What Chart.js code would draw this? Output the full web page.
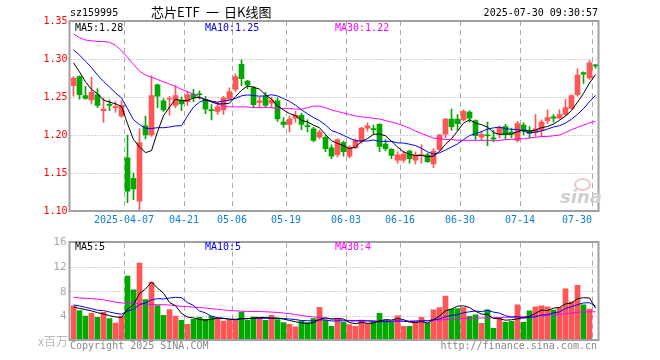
<!DOCTYPE html>
<html>
<head>
<meta charset="utf-8">
<script src="https://cdn.jsdelivr.net/npm/chart.js@4.4.1/dist/chart.umd.min.js"></script>
<style>
  body { margin: 0; background: #fff; width: 660px; height: 360px; position: relative; overflow: hidden; }
  canvas { position: absolute; left: 0; }
  #kc { top: 0; }
  #vc { top: 232px; }
  .t { position: absolute; font: 10px "DejaVu Sans Mono", monospace; line-height: 10px; white-space: nowrap; }
  .cn { position: absolute; font: 13px "Noto Sans CJK SC", sans-serif; line-height: 13px; white-space: nowrap; }
</style>
</head>
<body>
<canvas id="kc" width="660" height="232"></canvas>
<canvas id="vc" width="660" height="128"></canvas>

<div class="t" style="left:70px;top:7.5px">sz159995</div>
<div class="cn" style="left:151px;top:5px">芯片ETF</div>
<div class="cn" style="left:206px;top:5px">一</div>
<div class="cn" style="left:224px;top:5px">日K线图</div>
<div class="t" style="right:62px;top:7.5px">2025-07-30 09:30:57</div>

<div class="t" style="left:75px;top:22.5px;color:#000">MA5:1.28</div>
<div class="t" style="left:205px;top:22.5px;color:#00f">MA10:1.25</div>
<div class="t" style="left:335px;top:22.5px;color:#f0f">MA30:1.22</div>

<div class="t" style="left:75px;top:242px;color:#000">MA5:5</div>
<div class="t" style="left:205px;top:242px;color:#00f">MA10:5</div>
<div class="t" style="left:335px;top:242px;color:#f0f">MA30:4</div>

<div class="cn" style="left:38px;top:334px;font-size:12px;color:#bbb">x百万</div>
<div class="t" style="left:70px;top:341px;color:#888">Copyright 2025 SINA.COM</div>
<div class="t" style="right:63px;top:341px;color:#888">http://finance.sina.com.cn</div>

<div style="position:absolute;left:574px;top:178px;width:13px;height:9px;border-radius:50%;border:2px solid #efc6c6"></div>
<div style="position:absolute;left:560px;top:188px;font:italic bold 18px 'DejaVu Sans',sans-serif;color:#cfcfcf;line-height:18px">sina</div>

<script>
// trading days shown in the window
const dates = [
  '2025-03-24','2025-03-25','2025-03-26','2025-03-27','2025-03-28','2025-03-31',
  '2025-04-01','2025-04-02','2025-04-03','2025-04-07','2025-04-08','2025-04-09',
  '2025-04-10','2025-04-11','2025-04-14','2025-04-15','2025-04-16','2025-04-17',
  '2025-04-18','2025-04-21','2025-04-22','2025-04-23','2025-04-24','2025-04-25',
  '2025-04-28','2025-04-29','2025-04-30','2025-05-06','2025-05-07','2025-05-08',
  '2025-05-09','2025-05-12','2025-05-13','2025-05-14','2025-05-15','2025-05-16',
  '2025-05-19','2025-05-20','2025-05-21','2025-05-22','2025-05-23','2025-05-26',
  '2025-05-27','2025-05-28','2025-05-29','2025-05-30','2025-06-03','2025-06-04',
  '2025-06-05','2025-06-06','2025-06-09','2025-06-10','2025-06-11','2025-06-12',
  '2025-06-13','2025-06-16','2025-06-17','2025-06-18','2025-06-19','2025-06-20',
  '2025-06-23','2025-06-24','2025-06-25','2025-06-26','2025-06-27','2025-06-30',
  '2025-07-01','2025-07-02','2025-07-03','2025-07-04','2025-07-07','2025-07-08',
  '2025-07-09','2025-07-10','2025-07-11','2025-07-14','2025-07-15','2025-07-16',
  '2025-07-17','2025-07-18','2025-07-21','2025-07-22','2025-07-23','2025-07-24',
  '2025-07-25','2025-07-28','2025-07-29','2025-07-30'
];

const opens = [
  1.265,1.277,1.252,1.246,1.253,1.232,1.240,1.236,1.225,1.170,
  1.143,1.113,1.212,1.200,1.266,1.245,1.247,1.239,1.246,1.244,
  1.254,1.254,1.247,1.233,1.231,1.233,1.247,1.260,1.293,1.271,
  1.262,1.243,1.251,1.242,1.245,1.217,1.214,1.222,1.226,1.212,
  1.208,1.197,1.197,1.183,1.174,1.190,1.172,1.183,1.192,1.209,
  1.208,1.214,1.188,1.181,1.167,1.167,1.179,1.167,1.173,1.174,
  1.162,1.181,1.201,1.221,1.221,1.220,1.230,1.219,1.197,1.200,
  1.196,1.201,1.211,1.204,1.193,1.213,1.206,1.203,1.206,1.219,
  1.224,1.222,1.227,1.235,1.253,1.282,1.275,1.292
];
const highs = [
  1.277,1.278,1.264,1.276,1.261,1.249,1.246,1.244,1.245,1.200,
  1.150,1.208,1.225,1.278,1.267,1.248,1.251,1.265,1.250,1.257,
  1.260,1.258,1.251,1.240,1.243,1.251,1.262,1.280,1.299,1.272,
  1.264,1.250,1.256,1.250,1.249,1.223,1.225,1.231,1.229,1.220,
  1.210,1.206,1.200,1.187,1.195,1.192,1.186,1.195,1.210,1.216,
  1.213,1.215,1.194,1.182,1.178,1.179,1.180,1.178,1.187,1.176,
  1.182,1.201,1.222,1.234,1.227,1.233,1.232,1.220,1.205,1.217,
  1.206,1.212,1.214,1.209,1.218,1.216,1.211,1.227,1.220,1.233,
  1.227,1.233,1.247,1.253,1.287,1.283,1.298,1.293
];
const lows = [
  1.251,1.247,1.247,1.241,1.236,1.217,1.232,1.230,1.223,1.111,
  1.115,1.100,1.195,1.198,1.236,1.231,1.226,1.236,1.232,1.239,
  1.244,1.247,1.228,1.220,1.227,1.227,1.246,1.257,1.265,1.261,
  1.236,1.236,1.236,1.236,1.218,1.210,1.204,1.217,1.207,1.204,
  1.191,1.195,1.178,1.169,1.171,1.172,1.170,1.182,1.189,1.205,
  1.201,1.178,1.179,1.169,1.163,1.164,1.163,1.162,1.163,1.164,
  1.157,1.179,1.196,1.206,1.206,1.219,1.217,1.194,1.194,1.186,
  1.191,1.196,1.194,1.196,1.191,1.200,1.196,1.198,1.198,1.215,
  1.217,1.221,1.225,1.234,1.251,1.268,1.273,1.288
];
const closes = [
  1.275,1.253,1.248,1.256,1.239,1.234,1.239,1.237,1.239,1.126,
  1.129,1.190,1.200,1.252,1.251,1.233,1.248,1.252,1.241,1.253,
  1.249,1.253,1.234,1.232,1.237,1.249,1.257,1.277,1.274,1.266,
  1.240,1.245,1.239,1.246,1.221,1.214,1.221,1.226,1.214,1.211,
  1.193,1.204,1.182,1.172,1.194,1.178,1.184,1.193,1.209,1.212,
  1.207,1.185,1.182,1.173,1.174,1.175,1.169,1.174,1.174,1.165,
  1.179,1.200,1.221,1.211,1.215,1.231,1.222,1.199,1.201,1.199,
  1.195,1.210,1.201,1.201,1.215,1.206,1.202,1.208,1.217,1.223,
  1.222,1.227,1.236,1.252,1.279,1.280,1.295,1.291
];
// closes of the nine sessions before the window (estimated from where the MA lines start)
const closesBefore = [1.322,1.329,1.338,1.337,1.319,1.313,1.313,1.306,1.268];

// MA30 (needs 29 sessions that are not shown)
const ma30 = [
  1.333,1.328,1.325,1.324,1.323,1.323,1.322,1.318,1.311,1.302,
  1.293,1.284,1.279,1.276,1.273,1.270,1.267,1.264,1.260,1.257,
  1.254,1.250,1.247,1.243,1.241,1.238,1.237,1.237,1.237,1.237,
  1.236,1.236,1.236,1.236,1.235,1.235,1.235,1.234,1.234,1.236,
  1.238,1.238,1.236,1.233,1.231,1.229,1.227,1.225,1.224,1.223,
  1.222,1.221,1.219,1.217,1.215,1.212,1.209,1.205,1.202,1.199,
  1.196,1.195,1.194,1.194,1.193,1.193,1.193,1.193,1.193,1.193,
  1.193,1.193,1.194,1.194,1.195,1.195,1.196,1.197,1.198,1.198,
  1.199,1.200,1.203,1.207,1.210,1.213,1.216,1.218
];

// volume, millions
const volumes = [
  5.70,4.96,4.05,4.48,3.84,4.65,3.63,2.93,4.05,10.56,
  8.32,12.67,6.72,9.60,5.76,4.16,5.12,4.05,3.36,2.72,
  3.52,3.84,3.52,4.05,3.63,3.25,3.36,3.36,4.69,3.36,
  3.89,3.84,3.36,4.16,3.47,2.99,2.72,2.29,3.25,2.99,
  3.63,5.49,3.36,2.38,3.57,3.04,2.67,2.40,3.41,2.88,
  3.20,4.48,3.41,3.04,4.10,2.40,2.40,3.04,3.84,2.93,
  5.07,5.44,7.31,5.17,5.28,5.44,4.00,4.27,2.88,5.07,
  2.08,3.84,3.04,3.20,5.87,3.04,4.90,5.55,5.71,5.55,
  5.01,5.44,8.48,6.35,9.07,5.87,5.20,0.27
];
const volumesBefore = [6.6,6.4,6.6,6.4,5.17,5.96,5.05,5.48,5.3];
const volMa30 = [
  7.10,7.00,6.95,6.90,6.80,6.70,6.50,6.30,6.20,6.10,
  6.10,6.05,6.00,5.95,5.90,5.90,5.85,5.75,5.65,5.60,
  5.50,5.45,5.35,5.25,5.15,5.05,4.95,4.90,4.85,4.80,
  4.80,4.80,4.75,4.70,4.65,4.55,4.45,4.30,4.15,4.00,
  3.90,3.85,3.75,3.60,3.50,3.40,3.35,3.30,3.30,3.25,
  3.25,3.25,3.25,3.25,3.25,3.25,3.25,3.25,3.30,3.30,
  3.35,3.40,3.50,3.55,3.60,3.65,3.70,3.70,3.75,3.75,
  3.80,3.80,3.85,3.85,3.90,3.95,4.00,4.10,4.15,4.20,
  4.30,4.35,4.45,4.55,4.65,4.75,4.75,4.75
];

const tickDates = ['2025-04-07','2025-04-21','2025-05-06','2025-05-19','2025-06-03','2025-06-16','2025-06-30','2025-07-14','2025-07-30'];
const tickText  = ['2025-04-07','04-21','05-06','05-19','06-03','06-16','06-30','07-14','07-30'];
const priceGrid = [1.15, 1.20, 1.25, 1.30];
const volGrid = [4, 8, 12];

const UP = '#ff5555', DOWN = '#00a800';
const MONO = '"DejaVu Sans Mono", monospace';

function movingAvg(vals, before, n) {
  const all = before.concat(vals);
  return vals.map((_, i) => {
    const k = i + before.length;
    const win = all.slice(k - n + 1, k + 1);
    return win.reduce((a, b) => a + b, 0) / win.length;
  });
}

const candleColor = closes.map((c, i) => c >= opens[i] ? UP : DOWN);
const tickIdx = tickDates.map(d => dates.indexOf(d));

// dotted/dashed grid, frame and date labels, placed with the chart's scales
const sinaFrame = {
  id: 'sinaFrame',
  beforeDatasetsDraw(chart, args, opts) {
    const { ctx, chartArea: a, scales: { x, y } } = chart;
    const half = (x.getPixelForValue(1) - x.getPixelForValue(0)) / 2;
    ctx.save();
    ctx.strokeStyle = '#aaa';
    ctx.lineWidth = 1;
    ctx.setLineDash([1, 2]);
    opts.levels.forEach(v => {
      const py = Math.floor(y.getPixelForValue(v)) + 0.5;
      ctx.beginPath(); ctx.moveTo(a.left, py); ctx.lineTo(a.right, py); ctx.stroke();
    });
    ctx.setLineDash([5, 4]);
    tickIdx.forEach(i => {
      const px = Math.floor(x.getPixelForValue(i) - half) + 0.5;
      ctx.beginPath(); ctx.moveTo(px, a.top); ctx.lineTo(px, a.bottom); ctx.stroke();
    });
    ctx.restore();
  },
  afterDraw(chart, args, opts) {
    const { ctx, chartArea: a, scales: { x } } = chart;
    ctx.save();
    ctx.strokeStyle = '#a0a0a0';
    ctx.lineWidth = 2;
    ctx.strokeRect(Math.floor(a.left) - 0.5, Math.floor(a.top), Math.round(a.right - a.left) + 1, Math.round(a.bottom - a.top));
    if (opts.labels) {
      const half = (x.getPixelForValue(1) - x.getPixelForValue(0)) / 2;
      ctx.font = '10px ' + MONO;
      ctx.fillStyle = '#0d7fd6';
      ctx.textBaseline = 'alphabetic';
      tickIdx.forEach((i, k) => {
        const px = Math.floor(x.getPixelForValue(i) - half);
        const w = ctx.measureText(tickText[k]).width;
        ctx.textAlign = (px + w / 2 > a.right) ? 'right' : 'center';
        ctx.fillText(tickText[k], px, a.bottom + 12);
      });
    }
    ctx.restore();
  }
};

const common = {
  responsive: false,
  animation: false,
  devicePixelRatio: 1,
  events: [],
  plugins: { legend: { display: false }, tooltip: { enabled: false } },
  datasets: { bar: { grouped: false, borderWidth: 0, borderSkipped: false } }
};

new Chart(document.getElementById('kc'), {
  type: 'bar',
  data: {
    labels: dates,
    datasets: [
      { type: 'line', data: movingAvg(closes, closesBefore, 5), borderColor: '#000', borderWidth: 1, pointRadius: 0, order: 1 },
      { type: 'line', data: movingAvg(closes, closesBefore, 10), borderColor: '#00f', borderWidth: 1, pointRadius: 0, order: 2 },
      { type: 'line', data: ma30, borderColor: '#f0f', borderWidth: 1, pointRadius: 0, order: 3 },
      { data: opens.map((o, i) => [o, closes[i]]), backgroundColor: candleColor, barThickness: 5, minBarLength: 1, order: 8 },
      { data: lows.map((l, i) => [l, highs[i]]), backgroundColor: candleColor, barThickness: 1, order: 9 }
    ]
  },
  options: Object.assign({}, common, {
    layout: { padding: { left: 0, right: 61.5, top: 21, bottom: 21 } },
    plugins: Object.assign({}, common.plugins, { sinaFrame: { levels: priceGrid, labels: true } }),
    scales: {
      x: { type: 'category', display: false, offset: true },
      y: {
        min: 1.10, max: 1.35,
        grid: { display: false, drawTicks: false },
        border: { display: false },
        afterFit(s) { s.width = 70.5; },
        ticks: { stepSize: 0.05, padding: 3, color: '#f00', font: { family: MONO, size: 10 },
                 callback: v => v.toFixed(2) }
      }
    }
  }),
  plugins: [sinaFrame]
});

new Chart(document.getElementById('vc'), {
  type: 'bar',
  data: {
    labels: dates,
    datasets: [
      { type: 'line', data: movingAvg(volumes, volumesBefore, 5), borderColor: '#000', borderWidth: 1, pointRadius: 0, order: 1 },
      { type: 'line', data: movingAvg(volumes, volumesBefore, 10), borderColor: '#00f', borderWidth: 1, pointRadius: 0, order: 2 },
      { type: 'line', data: volMa30, borderColor: '#f0f', borderWidth: 1, pointRadius: 0, order: 3 },
      { data: volumes, backgroundColor: candleColor, barThickness: 5, order: 8 }
    ]
  },
  options: Object.assign({}, common, {
    layout: { padding: { left: 0, right: 61.5, top: 8, bottom: 19 } },
    plugins: Object.assign({}, common.plugins, { sinaFrame: { levels: volGrid, labels: false } }),
    scales: {
      x: { type: 'category', display: false, offset: true },
      y: {
        min: 0, max: 16,
        grid: { display: false, drawTicks: false },
        border: { display: false },
        afterFit(s) { s.width = 70.5; },
        ticks: { stepSize: 4, padding: 4, color: '#aaa', font: { family: MONO, size: 11 },
                 callback: v => v === 0 ? '' : v }
      }
    }
  }),
  plugins: [sinaFrame]
});
</script>
</body>
</html>
